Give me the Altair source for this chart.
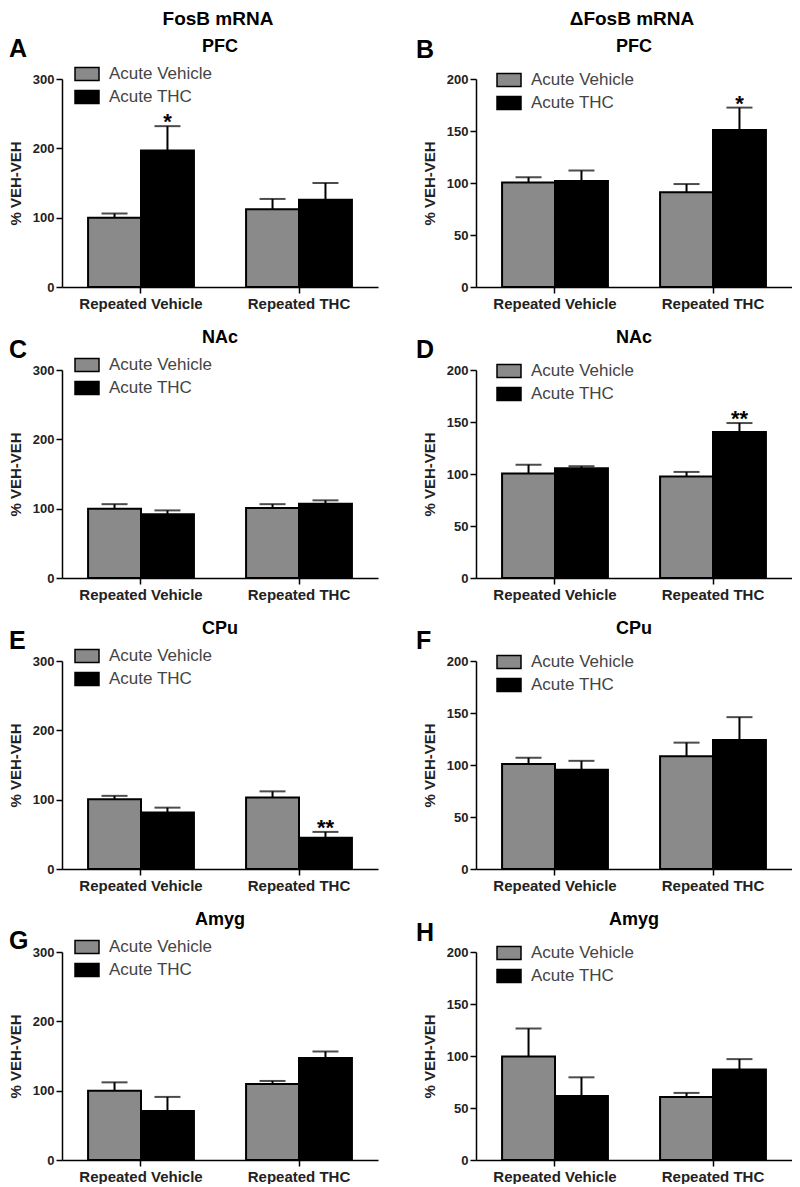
import altair as alt
import pandas as pd

FONT = "Liberation Sans"

groups = ["Repeated Vehicle", "Repeated THC"]
series = ["Acute Vehicle", "Acute THC"]

# order of values: RV-AcuteVeh, RV-AcuteTHC, RT-AcuteVeh, RT-AcuteTHC
A_mean = [100, 197, 112, 126]
A_sem = [6, 35, 15, 24]
A_star = ["", "*", "", ""]

B_mean = [100.5, 102, 91, 151]
B_sem = [5, 10, 8, 21.5]
B_star = ["", "", "", "*"]

C_mean = [100, 92, 101, 107]
C_sem = [6.5, 5.5, 5.5, 5]
C_star = ["", "", "", ""]

D_mean = [100.5, 105.5, 97.5, 140.5]
D_sem = [8.5, 2, 4.5, 8.5]
D_star = ["", "", "", "**"]

E_mean = [100.5, 81.5, 103, 45]
E_sem = [5, 7, 9, 8.5]
E_star = ["", "", "", "**"]

F_mean = [101, 95.5, 108.5, 124]
F_sem = [6, 8.5, 13, 22]
F_star = ["", "", "", ""]

G_mean = [100, 70.5, 109.5, 147]
G_sem = [12, 20.5, 4.5, 9.5]
G_star = ["", "", "", ""]

H_mean = [99.5, 61.5, 60.5, 87]
H_sem = [27, 18, 4, 10]
H_star = ["", "", "", ""]

left_ticks = [0, 100, 200, 300]
right_ticks = [0, 50, 100, 150, 200]

W = 316
H = 208


def text_layer(txt, x, y, size, weight="bold", align="center", baseline="middle"):
    return alt.Chart(pd.DataFrame({"t": [txt]})).mark_text(
        font=FONT, fontSize=size, fontWeight=weight, align=align,
        baseline=baseline, color="black"
    ).encode(text="t:N", x=alt.value(x), y=alt.value(y))


def panel(letter, region, means, sems, stars, ymax, yticks, letter_x, letter_y,
          legend_x, legend_y, header=None):
    rows = []
    i = 0
    for g in groups:
        for s in series:
            rows.append(dict(group=g, series=s, mean=means[i],
                             upper=means[i] + sems[i], star=stars[i]))
            i += 1
    df = pd.DataFrame(rows)
    base = alt.Chart(df)
    x = alt.X("group:N", sort=groups,
              scale=alt.Scale(paddingInner=0.33, paddingOuter=0.165),
              axis=alt.Axis(title=None, labelAngle=0, labelFontSize=15,
                            labelFontWeight="bold", labelColor="#222",
                            labelPadding=3, tickSize=6, tickWidth=1.5,
                            domainWidth=1.5))
    xo = alt.XOffset("series:N", sort=series,
                     scale=alt.Scale(domain=series, paddingInner=0, paddingOuter=0))
    y = alt.Y("mean:Q",
              scale=alt.Scale(domain=[0, ymax], nice=False),
              axis=alt.Axis(values=yticks, title="% VEH-VEH", titleFontSize=15,
                            titleFontWeight="bold", titlePadding=9,
                            labelFontSize=13, labelFontWeight="bold",
                            labelColor="#222", labelPadding=2, tickSize=6,
                            tickWidth=1.5, domainWidth=1.5))
    bars = base.mark_bar(stroke="black", strokeWidth=2).encode(
        x=x, xOffset=xo, y=y,
        fill=alt.Fill("series:N", sort=series,
                      scale=alt.Scale(domain=series, range=["#8a8a8a", "#000000"]),
                      legend=alt.Legend(
                          title=None, orient="none", legendX=legend_x, legendY=legend_y,
                          symbolType="M-1,-0.55L1,-0.55L1,0.55L-1,0.55Z",
                          symbolSize=576, symbolStrokeColor="black",
                          symbolStrokeWidth=1.5, labelFontSize=17, labelFont=FONT,
                          labelColor="#444", labelOffset=9, rowPadding=0,
                          padding=0, symbolOpacity=1)))
    err = base.mark_rule(color="black", strokeWidth=2).encode(
        x=x, xOffset=xo, y="mean:Q", y2="upper:Q")
    caps = base.mark_tick(color="black", thickness=2, size=26,
                          orient="horizontal").encode(x=x, xOffset=xo, y="upper:Q")
    star_t = base.mark_text(font=FONT, fontSize=22, fontWeight="bold",
                            baseline="alphabetic", dy=3, color="black").encode(
        x=x, xOffset=xo, y="upper:Q", text="star:N")
    layers = [bars, err, caps, star_t,
              text_layer(region, 158, -32, 18),
              text_layer(letter, letter_x, letter_y, 25, align="left",
                         baseline="alphabetic")]
    if header:
        layers.append(text_layer(header, 156, -60, 19))
    return alt.layer(*layers).properties(width=W, height=H)


def row(p1, p2):
    return alt.hconcat(p1, p2, spacing=38).resolve_scale(
        fill="independent").resolve_legend(fill="independent")


LX, LY, RX, RY = 12, -18, 20, -12

r1 = row(panel("A", "PFC", A_mean, A_sem, A_star, 300, left_ticks, -53, -22, LX, LY,
               header="FosB mRNA"),
         panel("B", "PFC", B_mean, B_sem, B_star, 200, right_ticks, -60, -21, RX, RY,
               header="\u0394FosB mRNA"))
r2 = row(panel("C", "NAc", C_mean, C_sem, C_star, 300, left_ticks, -53, -12, LX, LY),
         panel("D", "NAc", D_mean, D_sem, D_star, 200, right_ticks, -60, -12, RX, RY))
r3 = row(panel("E", "CPu", E_mean, E_sem, E_star, 300, left_ticks, -53, -12, LX, LY),
         panel("F", "CPu", F_mean, F_sem, F_star, 200, right_ticks, -60, -12, RX, RY))
r4 = row(panel("G", "Amyg", G_mean, G_sem, G_star, 300, left_ticks, -53, -3, LX, LY),
         panel("H", "Amyg", H_mean, H_sem, H_star, 200, right_ticks, -60, -11, RX, RY))

chart = alt.vconcat(r1, r2, r3, r4, spacing=18).resolve_scale(
    fill="independent").resolve_legend(fill="independent").properties(
    padding={"top": 2, "left": 0, "right": 0, "bottom": 0}).configure_axis(
    labelFont=FONT, titleFont=FONT, grid=False, domainColor="black",
    tickColor="black", titleColor="#222").configure_view(strokeWidth=0)

chart.save("out.html", embed_options={"renderer": "svg", "actions": False})
